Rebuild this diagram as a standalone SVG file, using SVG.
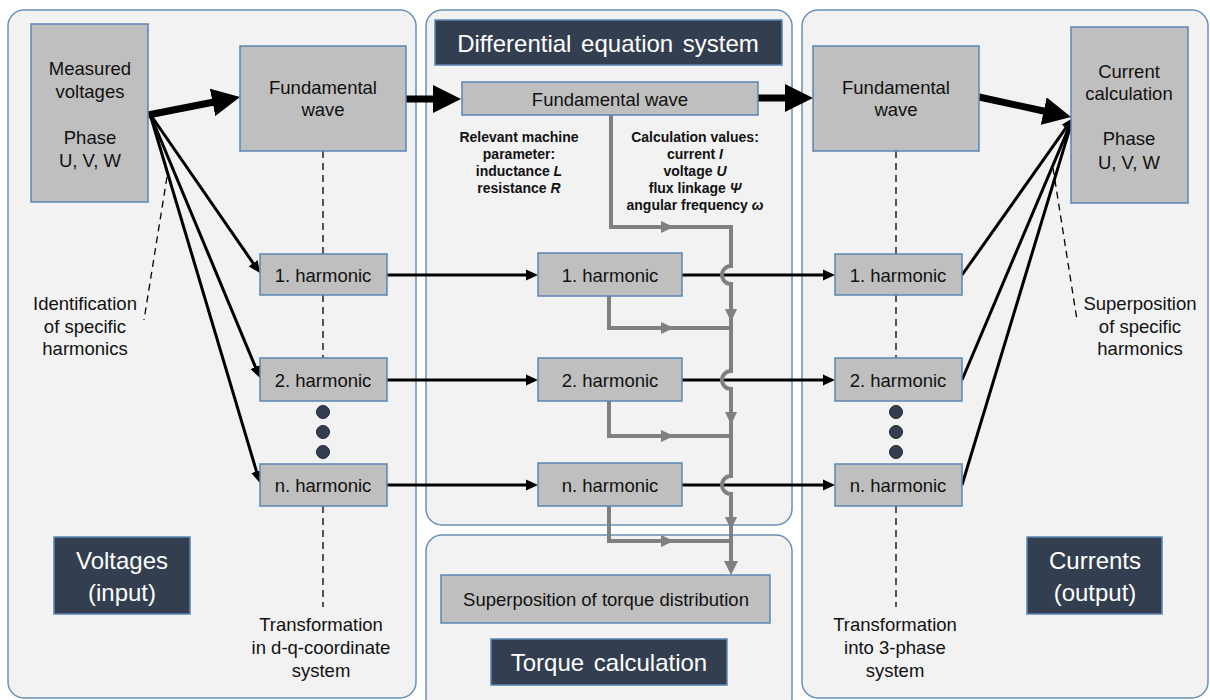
<svg xmlns="http://www.w3.org/2000/svg" width="1210" height="700" viewBox="0 0 1210 700">
<style>
.panel{fill:#f2f2f2;stroke:#6a90b8;stroke-width:1.5}
.box{fill:#bfbfbf;stroke:#5a86b4;stroke-width:1.5}
.dark{fill:#333f50;stroke:#5a86b4;stroke-width:1.5}
.t{font-family:"Liberation Sans",Arial,sans-serif;font-size:18.5px;fill:#111;text-anchor:middle;dominant-baseline:central}
.tw{font-family:"Liberation Sans",Arial,sans-serif;font-size:24px;fill:#fff;text-anchor:middle;dominant-baseline:central}
.tb{font-family:"Liberation Sans",Arial,sans-serif;font-size:14px;font-weight:bold;fill:#111;text-anchor:middle;dominant-baseline:central}
.thick{stroke:#000;stroke-width:7;fill:none;marker-end:url(#big)}
.thin{stroke:#000;stroke-width:3;fill:none;marker-end:url(#small)}
.dash{stroke:#000;stroke-width:1.3;stroke-dasharray:7,5;fill:none}
.gray{stroke:#808080;stroke-width:4;fill:none}
.gh{fill:#808080}
.dot{fill:#333f50;stroke:#1f2733;stroke-width:1}
</style>
<defs>
<marker id="big" markerUnits="userSpaceOnUse" viewBox="0 0 28 28" markerWidth="28" markerHeight="28" refX="8" refY="14" orient="auto"><path d="M0,0 L28,14 L0,28 z" fill="#000"/></marker>
<marker id="small" markerUnits="userSpaceOnUse" viewBox="0 0 12 12" markerWidth="12" markerHeight="12" refX="2" refY="6" orient="auto"><path d="M0,0.5 L12,6 L0,11.5 z" fill="#000"/></marker>
</defs>

<g id="panels">
<rect id="panel-left" class="panel" x="8" y="10" width="408" height="688" rx="16"/>
<rect id="panel-mid-top" class="panel" x="426" y="10" width="366" height="515" rx="16"/>
<rect id="panel-mid-bottom" class="panel" x="426" y="535" width="366" height="180" rx="16"/>
<rect id="panel-right" class="panel" x="802" y="10" width="406" height="688" rx="16"/>
</g>

<g id="annotations">
<path class="dash" d="M323,151 V254 M323,295 V358 M323,506 V607"/>
<path class="dash" d="M896,151 V254 M896,295 V358 M896,506 V607"/>
<path class="dash" d="M167,177 L144,320"/>
<path class="dash" d="M1053,168 L1077,320"/>
</g>

<g id="connectors">
<line class="thick" x1="148" y1="115" x2="220.4" y2="100.8"/>
<line class="thick" x1="406" y1="99" x2="441" y2="99"/>
<line class="thick" x1="758" y1="98" x2="793" y2="98"/>
<line class="thick" x1="979" y1="97" x2="1051.5" y2="112.75"/>
<line class="thin" x1="150" y1="114" x2="254.3" y2="264.8"/>
<line class="thin" x1="150" y1="114" x2="256.2" y2="368.8"/>
<line class="thin" x1="150" y1="114" x2="257.1" y2="473.4"/>
<line class="thin" x1="962" y1="275" x2="1067.2" y2="126.2"/>
<line class="thin" x1="962" y1="380" x2="1069.1" y2="127.2"/>
<line class="thin" x1="962" y1="485" x2="1070.1" y2="127.6"/>
<line class="thin" x1="387" y1="275" x2="528" y2="275"/>
<line class="thin" x1="387" y1="380" x2="528" y2="380"/>
<line class="thin" x1="387" y1="485" x2="528" y2="485"/>
<line class="thin" x1="682" y1="275" x2="825" y2="275"/>
<line class="thin" x1="682" y1="380" x2="825" y2="380"/>
<line class="thin" x1="682" y1="485" x2="825" y2="485"/>
<path class="gray" d="M611,115 V227 H731 V266 A9,9 0 0 0 731,284 V371 A9,9 0 0 0 731,389 V476 A9,9 0 0 0 731,494 V563"/>
<path class="gray" d="M609,296 V328 H731"/>
<path class="gray" d="M609,401 V436 H731"/>
<path class="gray" d="M609,506 V541 H731"/>
<polygon class="gh" points="661,221 674,227 661,233"/>
<polygon class="gh" points="661,322 674,328 661,334"/>
<polygon class="gh" points="661,430 674,436 661,442"/>
<polygon class="gh" points="661,535 674,541 661,547"/>
<polygon class="gh" points="725,309 737,309 731,322"/>
<polygon class="gh" points="725,412 737,412 731,425"/>
<polygon class="gh" points="725,517 737,517 731,530"/>
<polygon class="gh" points="724,561 738,561 731,575"/>
</g>

<g id="title-des">
<rect class="dark" x="435" y="20" width="347" height="45"/>
<text class="tw" x="608" y="43" word-spacing="3">Differential equation system</text>
</g>

<g id="measured">
<rect class="box" x="31" y="24" width="117" height="178"/>
<text class="t" x="90" y="68">Measured</text>
<text class="t" x="90" y="91">voltages</text>
<text class="t" x="90" y="137">Phase</text>
<text class="t" x="90" y="160">U, V, W</text>
</g>

<g id="fund-left">
<rect class="box" x="240" y="46" width="166" height="105"/>
<text class="t" x="323" y="87">Fundamental</text>
<text class="t" x="323" y="109">wave</text>
</g>

<g id="fund-mid">
<rect class="box" x="462" y="82" width="296" height="33"/>
<text class="t" x="610" y="99">Fundamental wave</text>
</g>

<g id="fund-right">
<rect class="box" x="813" y="46" width="166" height="105"/>
<text class="t" x="896" y="87">Fundamental</text>
<text class="t" x="896" y="109">wave</text>
</g>

<g id="current-calc">
<rect class="box" x="1071" y="27" width="117" height="176"/>
<text class="t" x="1129" y="71">Current</text>
<text class="t" x="1129" y="93">calculation</text>
<text class="t" x="1129" y="138">Phase</text>
<text class="t" x="1129" y="162">U, V, W</text>
</g>

<g id="params">
<text class="tb" x="519" y="137">Relevant machine</text>
<text class="tb" x="519" y="154">parameter:</text>
<text class="tb" x="519" y="171">inductance <tspan font-style="italic">L</tspan></text>
<text class="tb" x="519" y="188">resistance <tspan font-style="italic">R</tspan></text>
</g>

<g id="calc-values">
<text class="tb" x="695" y="137">Calculation values:</text>
<text class="tb" x="695" y="154">current <tspan font-style="italic">I</tspan></text>
<text class="tb" x="695" y="171">voltage <tspan font-style="italic">U</tspan></text>
<text class="tb" x="695" y="188">flux linkage <tspan font-style="italic">Ψ</tspan></text>
<text class="tb" x="695" y="205">angular frequency <tspan font-style="italic">ω</tspan></text>
</g>

<g id="harm-left-1"><rect class="box" x="260" y="254" width="127" height="41"/><text class="t" x="323" y="275">1. harmonic</text></g>
<g id="harm-left-2"><rect class="box" x="260" y="358" width="127" height="43"/><text class="t" x="323" y="380">2. harmonic</text></g>
<g id="harm-left-n"><rect class="box" x="260" y="464" width="127" height="42"/><text class="t" x="323" y="485">n. harmonic</text></g>

<g id="harm-mid-1"><rect class="box" x="538" y="253" width="144" height="43"/><text class="t" x="610" y="275">1. harmonic</text></g>
<g id="harm-mid-2"><rect class="box" x="538" y="358" width="144" height="43"/><text class="t" x="610" y="380">2. harmonic</text></g>
<g id="harm-mid-n"><rect class="box" x="538" y="463" width="144" height="43"/><text class="t" x="610" y="485">n. harmonic</text></g>

<g id="harm-right-1"><rect class="box" x="835" y="254" width="127" height="41"/><text class="t" x="898" y="275">1. harmonic</text></g>
<g id="harm-right-2"><rect class="box" x="835" y="358" width="127" height="43"/><text class="t" x="898" y="380">2. harmonic</text></g>
<g id="harm-right-n"><rect class="box" x="835" y="464" width="127" height="42"/><text class="t" x="898" y="485">n. harmonic</text></g>

<g id="dots-left">
<circle class="dot" cx="323" cy="412" r="6.5"/>
<circle class="dot" cx="323" cy="432" r="6.5"/>
<circle class="dot" cx="323" cy="452" r="6.5"/>
</g>
<g id="dots-right">
<circle class="dot" cx="896" cy="412" r="6.5"/>
<circle class="dot" cx="896" cy="432" r="6.5"/>
<circle class="dot" cx="896" cy="452" r="6.5"/>
</g>

<g id="label-identification">
<text class="t" x="85" y="303">Identification</text>
<text class="t" x="85" y="326">of specific</text>
<text class="t" x="85" y="348">harmonics</text>
</g>
<g id="label-superposition">
<text class="t" x="1140" y="303">Superposition</text>
<text class="t" x="1140" y="326">of specific</text>
<text class="t" x="1140" y="348">harmonics</text>
</g>

<g id="label-dq">
<text class="t" x="321" y="624">Transformation</text>
<text class="t" x="321" y="647">in d-q-coordinate</text>
<text class="t" x="321" y="670">system</text>
</g>
<g id="label-3phase">
<text class="t" x="895" y="624">Transformation</text>
<text class="t" x="895" y="647">into 3-phase</text>
<text class="t" x="895" y="670">system</text>
</g>

<g id="torque-sup">
<rect class="box" x="441" y="575" width="329" height="48"/>
<text class="t" x="606" y="599">Superposition of torque distribution</text>
</g>

<g id="torque-title">
<rect class="dark" x="491" y="639" width="236" height="46"/>
<text class="tw" x="609" y="662" word-spacing="3">Torque calculation</text>
</g>

<g id="voltages-input">
<rect class="dark" x="54" y="537" width="136" height="77"/>
<text class="tw" x="122" y="560">Voltages</text>
<text class="tw" x="122" y="592">(input)</text>
</g>

<g id="currents-output">
<rect class="dark" x="1027" y="537" width="135" height="77"/>
<text class="tw" x="1095" y="560">Currents</text>
<text class="tw" x="1095" y="592">(output)</text>
</g>
</svg>
